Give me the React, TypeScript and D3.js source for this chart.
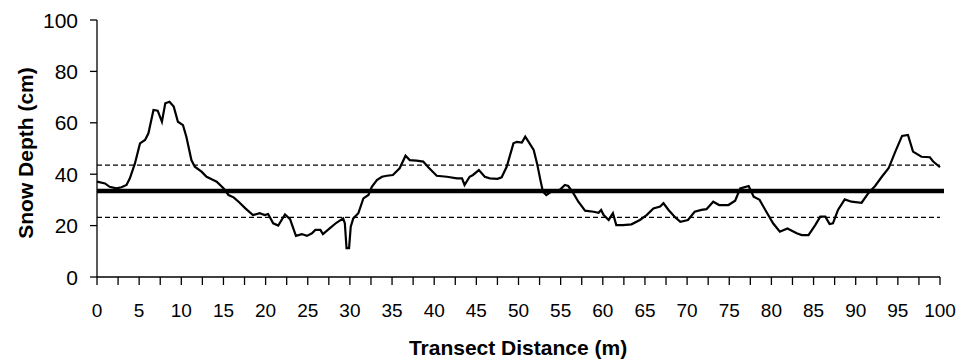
import React from "react";
import * as d3 from "d3";

const distance = [
  0, 0.95, 1.5, 2.3, 2.9, 3.5, 3.9, 4.5, 5.1, 5.7, 6.1, 6.7, 7.2, 7.7, 8.1, 8.6, 9.1, 9.6, 10.2, 10.6,
  11.2, 11.6, 12.4, 13, 13.6, 14.2, 15, 15.6, 16.2, 16.8, 17.6, 18.5, 19.3, 19.9, 20.3, 20.9, 21.5, 22.3, 22.9, 23.6,
  24.3, 24.9, 25.5, 25.9, 26.5, 26.8, 27.6, 28.4, 29.2, 29.4, 29.6, 29.9, 30.1, 30.4, 31, 31.6, 32.2, 32.6, 33.2, 33.8,
  34.4, 35.1, 35.9, 36.6, 37.1, 37.9, 38.7, 39.3, 40.3, 41.5, 42.7, 43.3, 43.6, 44.2, 44.6, 45.3, 46, 46.6, 47.5, 48,
  48.6, 49.4, 49.8, 50.4, 50.8, 51.2, 51.8, 52.2, 52.6, 52.9, 53.3, 53.9, 54.9, 55.5, 55.9, 56.5, 57.1, 57.9, 58.9, 59.5,
  59.8, 60.1, 60.7, 61.2, 61.6, 62.4, 63.4, 64.4, 65.2, 66, 66.8, 67.2, 67.8, 68.6, 69.2, 70.1, 70.9, 71.7, 72.3, 73.1,
  73.8, 74.9, 75.7, 76.3, 77.3, 77.9, 78.6, 79.4, 80.2, 81, 81.9, 83, 83.6, 84.4, 85.2, 85.8, 86.4, 86.9, 87.3, 87.9,
  88.7, 89.5, 90.7, 91.5, 92.3, 93.1, 93.9, 94.7, 95.5, 96.2, 96.8, 97.8, 98.8, 99.2, 100,
];

const snowDepth = [
  37.1, 36.4, 35.1, 34.5, 34.9, 35.8, 38.4, 44.2, 52, 53.3, 55.9, 65, 64.7, 60.4, 67.6, 68.2, 66.3, 60.4, 59.1, 54.6,
  45.5, 42.9, 41, 39, 38, 37.1, 34.5, 31.9, 31, 29.3, 26.7, 24.1, 24.8, 24.1, 24.5, 20.9, 20, 24.3, 22.5, 16,
  16.7, 16, 17, 18.3, 18.3, 16.7, 18.9, 21.1, 22.8, 20.9, 11.2, 11.2, 19.6, 22.8, 24.8, 30.6, 31.9, 35.1, 37.7, 39,
  39.4, 39.7, 42.3, 47.2, 45.5, 45.3, 44.9, 42.7, 39.4, 39, 38.4, 38.4, 35.8, 39, 39.7, 41.6, 39, 38.4, 38.2, 38.8,
  42.9, 52, 52.6, 52.3, 54.6, 52.6, 49.4, 44.2, 37.7, 33.2, 31.9, 33.2, 33.9, 35.8, 35.4, 32.6, 29.3, 25.8, 25.4, 25,
  26.1, 24.1, 22.2, 24.8, 20.2, 20.2, 20.5, 22.2, 24.1, 26.7, 27.4, 28.7, 26.1, 23.2, 21.5, 22.2, 25.4, 26.1, 26.4, 29.3,
  28, 28, 29.7, 34.5, 35.4, 31.2, 30, 25.4, 20.9, 17.6, 18.9, 17, 16.3, 16.3, 20.2, 23.5, 23.5, 20.6, 20.9, 26.1,
  30.2, 29.3, 28.9, 32.6, 35.4, 39, 42.3, 48.8, 54.9, 55.3, 48.8, 46.8, 46.6, 44.9, 42.7,
];

const meanDepth = 33.5;
const upperBand = 43.5;
const lowerBand = 23.2;

const xTickLabels = [0, 5, 10, 15, 20, 25, 30, 35, 40, 45, 50, 55, 60, 65, 70, 75, 80, 85, 90, 95, 100];
const xMinorTicks = d3.range(0, 100.01, 2.5);
const yTickLabels = [0, 20, 40, 60, 80, 100];

const xTitle = "Transect Distance (m)";
const yTitle = "Snow Depth (cm)";

export default function App() {
  const W = 964;
  const H = 364;
  const x = d3.scaleLinear().domain([0, 100]).range([97, 940]);
  const y = d3.scaleLinear().domain([0, 100]).range([277, 20]);

  const pts: [number, number][] = distance.map((d, i) => [d, snowDepth[i]]);
  const line = d3
    .line<[number, number]>()
    .x((d) => x(d[0]))
    .y((d) => y(d[1]))
    .curve(d3.curveLinear);

  const font = "'Liberation Sans', Arial, sans-serif";

  return (
    <svg
      width={W}
      height={H}
      style={{ position: "absolute", left: 0, top: 0, background: "#fff" }}
      fontFamily={font}
    >
      <rect width={W} height={H} fill="#fff" />
      {/* reference lines */}
      <line x1={x(0)} x2={x(100)} y1={y(upperBand)} y2={y(upperBand)} stroke="#000" strokeWidth={1.2} strokeDasharray="5,3" />
      <line x1={x(0)} x2={x(100)} y1={y(lowerBand)} y2={y(lowerBand)} stroke="#000" strokeWidth={1.2} strokeDasharray="5,3" />
      <line x1={x(0)} x2={x(100) + 4} y1={y(meanDepth)} y2={y(meanDepth)} stroke="#000" strokeWidth={4.5} />
      {/* data */}
      <path d={line(pts) || ""} fill="none" stroke="#000" strokeWidth={2.2} strokeLinejoin="miter" />
      {/* axes */}
      <line x1={x(0)} x2={x(0)} y1={y(100)} y2={y(0)} stroke="#000" strokeWidth={1.3} />
      <line x1={x(0)} x2={x(100)} y1={y(0)} y2={y(0)} stroke="#000" strokeWidth={1.3} />
      {yTickLabels.map((v) => (
        <g key={"y" + v}>
          <line x1={x(0) - 7} x2={x(0)} y1={y(v)} y2={y(v)} stroke="#000" strokeWidth={1.3} />
          <text x={78} y={y(v)} dy="0.36em" textAnchor="end" fontSize={21} fill="#000">
            {v}
          </text>
        </g>
      ))}
      {xMinorTicks.map((v) => (
        <line key={"xt" + v} x1={x(v)} x2={x(v)} y1={y(0)} y2={y(0) + 8} stroke="#000" strokeWidth={1.3} />
      ))}
      {xTickLabels.map((v) => (
        <text key={"xl" + v} x={x(v)} y={316.5} textAnchor="middle" fontSize={19} fill="#000">
          {v}
        </text>
      ))}
      <text x={518} y={355} textAnchor="middle" fontSize={21} fontWeight="bold" fill="#000">
        {xTitle}
      </text>
      <text
        transform={`translate(33,153) rotate(-90)`}
        textAnchor="middle"
        fontSize={21}
        fontWeight="bold"
        fill="#000"
      >
        {yTitle}
      </text>
    </svg>
  );
}
